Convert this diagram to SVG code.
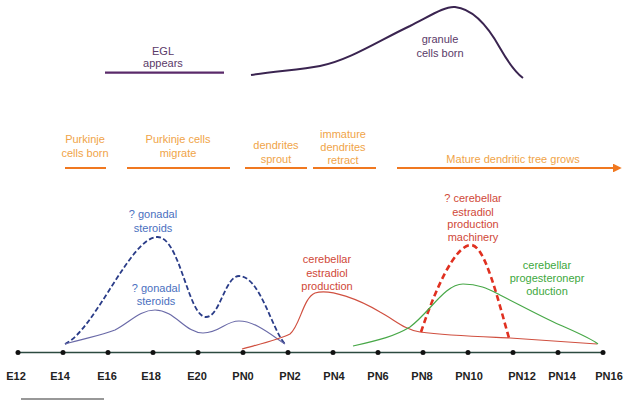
<svg xmlns="http://www.w3.org/2000/svg" width="629" height="407" viewBox="0 0 629 407">
<defs>
<style>
text{font-family:"Liberation Sans",Arial,sans-serif;font-size:11px;text-anchor:middle}
.ax{font-weight:bold;fill:#222;font-size:11px}
.pu{fill:#5a3a68}
.or{fill:#f0a448}
.bl{fill:#4a70c0}
.rd{fill:#d04838}
.gr{fill:#40a840}
.orl{stroke:#f07820;stroke-width:2.2;fill:none}
.dot{fill:#111}
</style>
<marker id="arr" viewBox="0 0 10 10" refX="8" refY="5" markerWidth="4" markerHeight="4" orient="auto"><path d="M0,0 L10,5 L0,10 z" fill="#f07820"/></marker>
</defs>
<rect width="629" height="407" fill="#fff"/>
<g id="connectors">
<line x1="105" y1="72.7" x2="224" y2="72.7" stroke="#5a2a6a" stroke-width="2.2"/>
<path d="M251,75 C275,71 300,70 320,66 C350,60 380,40 410,26 C430,16 445,6 455,7 C475,9 490,30 500,48 C508,62 515,72 523,78" fill="none" stroke="#3a2450" stroke-width="2"/>
<line class="orl" x1="65" y1="168" x2="106" y2="168"/>
<line class="orl" x1="127" y1="168" x2="230" y2="168"/>
<line class="orl" x1="245" y1="168" x2="307" y2="168"/>
<line class="orl" x1="313" y1="168" x2="376" y2="168"/>
<line class="orl" x1="397" y1="168" x2="620" y2="168" marker-end="url(#arr)"/>
<line x1="18" y1="352.5" x2="603" y2="352.5" stroke="#2c4a40" stroke-width="1.3"/>
<line x1="21" y1="399" x2="104" y2="399" stroke="#333" stroke-width="1.2"/>
<path d="M65,344 C95,330 130,238 157,237 C180,236 188,317 206,317 C220,317 225,276 239,276 C260,276 272,330 285,344" fill="none" stroke="#2a3c88" stroke-width="1.8" stroke-dasharray="5,2.5"/>
<path d="M65,344 C85,338 100,336 115,330 C130,322 140,310 155,310 C175,310 185,333 203,333 C220,333 225,321 239,321 C255,321 270,334 285,344" fill="none" stroke="#6a6aa8" stroke-width="1.2"/>
<path d="M242,349 C260,344 278,340 290,334 C300,326 303,298 315,293 C330,288 360,300 380,312 C395,320 405,330 420,332 C450,336 490,337 510,338 C540,340 570,342 597,344" fill="none" stroke="#d05040" stroke-width="1.2"/>
<path d="M421,332 C435,290 455,245 471,245 C485,245 498,300 509,338" fill="none" stroke="#e03020" stroke-width="2.6" stroke-dasharray="6,3.5"/>
<path d="M353,346 C380,340 395,336 410,327 C430,312 445,284 463,284 C480,284 490,290 500,295 C520,305 540,316 560,325 C578,333 590,338 598,344" fill="none" stroke="#48a848" stroke-width="1.2"/>
</g>
<g id="axis-dots">
<circle class="dot" cx="18" cy="352.5" r="2.5"/><circle class="dot" cx="63" cy="352.5" r="2.5"/><circle class="dot" cx="108" cy="352.5" r="2.5"/><circle class="dot" cx="153" cy="352.5" r="2.5"/><circle class="dot" cx="198" cy="352.5" r="2.5"/><circle class="dot" cx="243" cy="352.5" r="2.5"/><circle class="dot" cx="288" cy="352.5" r="2.5"/><circle class="dot" cx="333" cy="352.5" r="2.5"/><circle class="dot" cx="378" cy="352.5" r="2.5"/><circle class="dot" cx="423" cy="352.5" r="2.5"/><circle class="dot" cx="468" cy="352.5" r="2.5"/><circle class="dot" cx="513" cy="352.5" r="2.5"/><circle class="dot" cx="558" cy="352.5" r="2.5"/><circle class="dot" cx="603" cy="352.5" r="2.5"/>
</g>
<g id="axis-labels">
<text class="ax" x="16" y="380">E12</text><text class="ax" x="60" y="380">E14</text><text class="ax" x="107" y="380">E16</text><text class="ax" x="151" y="380">E18</text><text class="ax" x="197" y="380">E20</text><text class="ax" x="243" y="380">PN0</text><text class="ax" x="290" y="380">PN2</text><text class="ax" x="334" y="380">PN4</text><text class="ax" x="378" y="380">PN6</text><text class="ax" x="422" y="380">PN8</text><text class="ax" x="469" y="380">PN10</text><text class="ax" x="522" y="380">PN12</text><text class="ax" x="562" y="380">PN14</text><text class="ax" x="609" y="380">PN16</text>
</g>
<g id="egl"><text class="pu" x="163" y="55">EGL</text><text class="pu" x="163" y="67">appears</text></g>
<g id="granule"><text class="pu" x="440" y="43">granule</text><text class="pu" x="440" y="57">cells born</text></g>
<g id="purkinje-born"><text class="or" x="85" y="143">Purkinje</text><text class="or" x="85" y="157">cells born</text></g>
<g id="purkinje-migrate"><text class="or" x="178" y="143">Purkinje cells</text><text class="or" x="178" y="157">migrate</text></g>
<g id="dendrites-sprout"><text class="or" x="276" y="149">dendrites</text><text class="or" x="276" y="163">sprout</text></g>
<g id="immature"><text class="or" x="343" y="138">immature</text><text class="or" x="343" y="151">dendrites</text><text class="or" x="343" y="164">retract</text></g>
<g id="mature"><text class="or" x="513" y="163">Mature dendritic tree grows</text></g>
<g id="gonadal-dashed"><text class="bl" x="153" y="218">? gonadal</text><text class="bl" x="153" y="232">steroids</text></g>
<g id="gonadal-solid"><text class="bl" x="156" y="292">? gonadal</text><text class="bl" x="156" y="305">steroids</text></g>
<g id="estradiol"><text class="rd" x="327" y="263">cerebellar</text><text class="rd" x="327" y="277">estradiol</text><text class="rd" x="327" y="290">production</text></g>
<g id="machinery"><text class="rd" x="473" y="202">? cerebellar</text><text class="rd" x="473" y="216">estradiol</text><text class="rd" x="473" y="228">production</text><text class="rd" x="473" y="241">machinery</text></g>
<g id="progesterone"><text class="gr" x="547" y="269">cerebellar</text><text class="gr" x="547" y="282">progesteronepr</text><text class="gr" x="547" y="295">oduction</text></g>
</svg>
